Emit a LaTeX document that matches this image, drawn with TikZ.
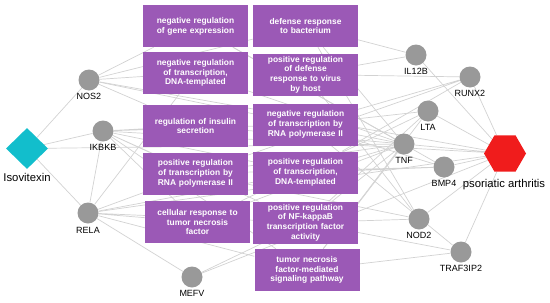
\documentclass[tikz,border=0pt]{standalone}
\usepackage{fontspec}
\setmainfont{Liberation Sans}
\usetikzlibrary{shapes.geometric,backgrounds}
\definecolor{termpurple}{RGB}{155,89,182}
\definecolor{genegray}{RGB}{153,153,153}
\definecolor{edgegray}{RGB}{210,210,210}
\definecolor{drugcyan}{RGB}{18,190,204}
\definecolor{diseasered}{RGB}{240,28,28}
\begin{document}
\begin{tikzpicture}[x=1pt,y=-1pt,
  gene/.style={circle,fill=genegray,minimum size=21pt,inner sep=0pt},
  glabel/.style={inner sep=0pt,font=\fontsize{9}{10}\selectfont},
  biglabel/.style={inner sep=0pt,font=\fontsize{11.3}{13}\selectfont},
  term/.style={fill=termpurple,text=white,minimum width=105pt,minimum height=42pt,text width=103pt,inner sep=0pt,align=center,font=\bfseries\fontsize{8.4}{9.7}\selectfont},
  edge/.style={draw=edgegray,line width=0.7pt}]
\useasboundingbox (0,0) rectangle (550,303);
% go terms
\node[term] (g1) at (195.5,26) {negative regulation\\of gene expression};
\node[term] (g2) at (195.5,73) {negative regulation\\of transcription,\\DNA-templated};
\node[term] (g3) at (195.5,126) {regulation of insulin\\secretion};
\node[term] (g4) at (195.5,173.5) {positive regulation\\of transcription by\\RNA polymerase II};
\node[term] (g5) at (197.5,222) {cellular response to\\tumor necrosis\\factor};
\node[term] (g6) at (305.5,26) {defense response\\to bacterium};
\node[term] (g7) at (305.5,74.5) {positive regulation\\of defense\\response to virus\\by host};
\node[term] (g8) at (305.5,124.5) {negative regulation\\of transcription by\\RNA polymerase II};
\node[term] (g9) at (305.5,172.5) {positive regulation\\of transcription,\\DNA-templated};
\node[term] (g10) at (305.5,222.5) {positive regulation\\of NF-kappaB\\transcription factor\\activity};
\node[term] (g11) at (307,270) {tumor necrosis\\factor-mediated\\signaling pathway};
% drug and disease
\node[diamond,fill=drugcyan,minimum width=42pt,minimum height=41pt,inner sep=0pt] (iso) at (27,148.5) {};
\node[biglabel] (iso-t) at (27,177) {Isovitexin};
\node[regular polygon,regular polygon sides=6,fill=diseasered,minimum size=42pt,inner sep=0pt] (pa) at (505,153.5) {};
\node[biglabel] (pa-t) at (504,184.5) {psoriatic arthritis};
% targets
\node[gene] (nos2) at (89,80) {}; \node[glabel] (nos2-t) at (89,96.5) {NOS2};
\node[gene] (ikbkb) at (103,131) {}; \node[glabel] (ikbkb-t) at (103,147.5) {IKBKB};
\node[gene] (rela) at (88,213) {}; \node[glabel] (rela-t) at (88,230) {RELA};
\node[gene] (mefv) at (192,277) {}; \node[glabel] (mefv-t) at (192,293.5) {MEFV};
\node[gene] (il12b) at (416,55) {}; \node[glabel] (il12b-t) at (416,71.5) {IL12B};
\node[gene] (runx2) at (470,77) {}; \node[glabel] (runx2-t) at (470,93.5) {RUNX2};
\node[gene] (lta) at (428,111) {}; \node[glabel] (lta-t) at (428,127.5) {LTA};
\node[gene] (tnf) at (404,144) {}; \node[glabel] (tnf-t) at (404,160.5) {TNF};
\node[gene] (bmp4) at (444,167) {}; \node[glabel] (bmp4-t) at (444,183.5) {BMP4};
\node[gene] (nod2) at (419,219) {}; \node[glabel] (nod2-t) at (419,235.5) {NOD2};
\node[gene] (traf) at (461,252) {}; \node[glabel] (traf-t) at (461,268.5) {TRAF3IP2};
\begin{scope}[on background layer]
\draw[edge] (iso)--(nos2) (iso)--(ikbkb) (iso)--(rela) (iso)--(tnf);
\draw[edge] (pa)--(nos2) (pa)--(ikbkb) (pa)--(rela) (pa)--(mefv) (pa)--(il12b) (pa)--(runx2) (pa)--(lta) (pa)--(tnf) (pa)--(bmp4) (pa)--(nod2) (pa)--(traf);
\draw[edge] (nos2)--(g1) (nos2)--(g6) (nos2)--(g2) (nos2)--(g8) (nos2)--(g3);
\draw[edge] (ikbkb)--(g3) (ikbkb)--(g4) (ikbkb)--(g8) (ikbkb)--(g9) (ikbkb)--(g10) (ikbkb)--(g11) (ikbkb)--(g5);
\draw[edge] (rela)--(ikbkb) (rela)--(mefv) (rela)--(g2) (rela)--(g4) (rela)--(g9) (rela)--(g5) (rela)--(g10) (rela)--(g11);
\draw[edge] (mefv)--(g10) (il12b)--(g7) (il12b)--(g6);
\draw[edge] (runx2)--(g7) (runx2)--(g8) (runx2)--(g4) (runx2)--(g9);
\draw[edge] (lta)--(g8) (lta)--(g10) (lta)--(g11) (lta)--(g5);
\draw[edge] (tnf)--(g1) (tnf)--(g2) (tnf)--(g3) (tnf)--(g4) (tnf)--(g5) (tnf)--(g6) (tnf)--(g8) (tnf)--(g9) (tnf)--(g10) (tnf)--(g11);
\draw[edge] (bmp4)--(g9) (bmp4)--(g4) (bmp4)--(g8) (bmp4)--(g1);
\draw[edge] (nod2)--(g6) (nod2)--(g7) (nod2)--(g4) (nod2)--(g10);
\draw[edge] (traf)--(g10) (traf)--(g8) (traf)--(g11);
\end{scope}
\end{tikzpicture}
\end{document}
